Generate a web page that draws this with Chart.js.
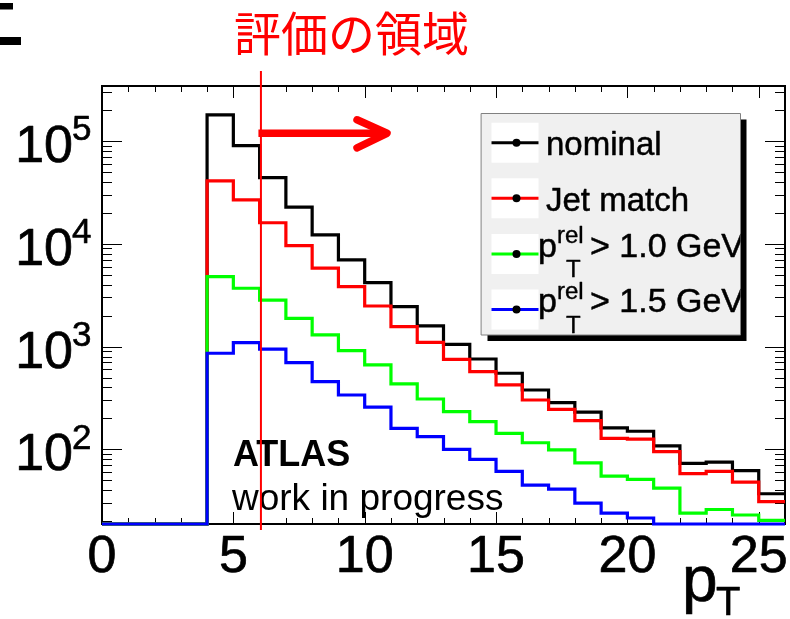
<!DOCTYPE html>
<html>
<head>
<meta charset="utf-8">
<script src="https://cdn.jsdelivr.net/npm/chart.js@4.4.1/dist/chart.umd.min.js"></script>
<style>
  html, body { margin: 0; padding: 0; background: #fff; }
  #wrap { width: 790px; height: 619px; position: relative; }
</style>
</head>
<body>
<div id="wrap"><canvas id="ptChart"></canvas></div>
<script>
// histogram bins: lower edge of each 1 GeV bin
const binLow = [0,1,2,3,4,5,6,7,8,9,10,11,12,13,14,15,16,17,18,19,20,21,22,23,24,25];
const binWidth = 1;

const nominal  = [0,0,0,0,179000,90000,44000,22650,12180,6960,4180,2440,1590,1050,757,550,378,285,230,162,150,108,73,75,62,37];
const jetMatch = [0,0,0,0,40800,26700,16000,9580,5780,3830,2480,1560,1100,752,570,423,302,245,190,128,126,95,58,61,48,31];
const prel10   = [0,0,0,0,4790,3690,2830,1880,1300,912,662,433,309,233,186,143,116,99,74,55,51,42,24,26,23,20.4];
const prel15   = [0,0,0,0,861,1090,942,697,456,338,257,160,133,100,80,61,45,41,30,24,21.5,0,0,0,0,0];

const xTickLabels = [0,5,10,15,20,25];
const yDecades = [2,3,4,5];
const yMin = 18.8;
const yMax = 342000;
const cutPt = 6.05;       // start of the evaluated region
const arrowEnd = 10.85;
const arrowY = 118600;

const FONT = '"Liberation Sans", Arial, Helvetica, sans-serif';

function histPoints(vals) {
  const pts = vals.map((v, i) => ({ x: binLow[i], y: v > 0 ? v : yMin }));
  pts.push({ x: binLow[binLow.length - 1] + binWidth, y: pts[pts.length - 1].y });
  return pts;
}

// text a bit heavier, like the ROOT helvetica output
function heavyText(ctx, txt, x, y, w) {
  ctx.lineWidth = w;
  ctx.strokeStyle = ctx.fillStyle;
  ctx.lineJoin = 'round';
  ctx.strokeText(txt, x, y);
  ctx.fillText(txt, x, y);
}

// ROOT-like frame, ticks, labels, legend and annotations
const rootStyle = {
  id: 'rootStyle',
  beforeDatasetsDraw(chart) {
    const { ctx, chartArea: a } = chart;
    const xs = chart.scales.x, ys = chart.scales.y;
    ctx.save();
    ctx.strokeStyle = '#000';
    ctx.lineWidth = 2;
    ctx.strokeRect(a.left, a.top, a.right - a.left, a.bottom - a.top);

    ctx.lineWidth = 1;
    for (let v = 1; v < 26; v++) {
      const px = Math.round(xs.getPixelForValue(v)) + 0.5;
      const len = v % 5 === 0 ? 12 : 6;
      ctx.beginPath();
      ctx.moveTo(px, a.bottom); ctx.lineTo(px, a.bottom - len);
      ctx.moveTo(px, a.top); ctx.lineTo(px, a.top + len);
      ctx.stroke();
    }
    for (let d = 1; d <= 5; d++) {
      for (let m = 1; m <= 9; m++) {
        const v = m * Math.pow(10, d);
        if (v <= yMin || v >= yMax) continue;
        const py = Math.round(ys.getPixelForValue(v)) + 0.5;
        const len = m === 1 ? 20 : 10;
        ctx.beginPath();
        ctx.moveTo(a.left, py); ctx.lineTo(a.left + len, py);
        ctx.moveTo(a.right, py); ctx.lineTo(a.right - len, py);
        ctx.stroke();
      }
    }
    ctx.restore();
  },
  afterDraw(chart) {
    const { ctx, chartArea: a } = chart;
    const xs = chart.scales.x, ys = chart.scales.y;
    ctx.save();

    // tick labels
    ctx.fillStyle = '#000';
    ctx.font = '52px ' + FONT;
    ctx.textAlign = 'center';
    ctx.textBaseline = 'alphabetic';
    xTickLabels.forEach(v => heavyText(ctx, String(v), xs.getPixelForValue(v), 572, 0.7));
    yDecades.forEach(d => {
      const py = ys.getPixelForValue(Math.pow(10, d));
      ctx.font = '52px ' + FONT;
      ctx.textAlign = 'right';
      heavyText(ctx, '10', 73, py + 21, 0.7);
      ctx.font = '35px ' + FONT;
      ctx.textAlign = 'left';
      heavyText(ctx, String(d), 72, py - 0.5, 0.6);
    });

    // axis title p_T
    ctx.textAlign = 'left';
    ctx.font = '64px ' + FONT;
    heavyText(ctx, 'p', 682, 601, 0.7);
    ctx.font = '40px ' + FONT;
    heavyText(ctx, 'T', 716, 615, 0.6);

    // ATLAS label
    ctx.font = 'bold 36px ' + FONT;
    ctx.fillText('ATLAS', 233, 466);
    ctx.font = '37px ' + FONT;
    ctx.fillText('work in progress', 232, 510);

    // evaluated region: line + arrow + title
    const cx = xs.getPixelForValue(cutPt);
    ctx.strokeStyle = '#ff0000';
    ctx.lineWidth = 2;
    ctx.beginPath();
    ctx.moveTo(cx, 71); ctx.lineTo(cx, 530);
    ctx.stroke();

    const ay = ys.getPixelForValue(arrowY);
    const tipX = xs.getPixelForValue(arrowEnd);
    ctx.lineWidth = 7.5;
    ctx.lineCap = 'butt';
    ctx.beginPath();
    ctx.moveTo(cx - 2.5, ay); ctx.lineTo(tipX - 4, ay);
    ctx.stroke();
    ctx.lineCap = 'round';
    ctx.lineJoin = 'round';
    ctx.beginPath();
    ctx.moveTo(tipX - 30, ay - 13.5); ctx.lineTo(tipX, ay); ctx.lineTo(tipX - 30, ay + 14.5);
    ctx.stroke();

    ctx.fillStyle = '#ff0000';
    ctx.font = '47px "Noto Sans CJK JP", sans-serif';
    ctx.textAlign = 'center';
    ctx.textBaseline = 'middle';
    ctx.fillText('評価の領域', 351.5, 33);

    // cropped glyph from the slide, top-left
    ctx.fillStyle = '#000';
    ctx.fillRect(0, 3, 13, 6.5);
    ctx.fillRect(0, 37, 21, 8);

    // legend
    const L = { x: 481.5, y: 113.5, w: 259, h: 221.5 };
    ctx.fillStyle = '#000';
    ctx.fillRect(L.x + 6, L.y + 6, L.w, L.h);
    ctx.fillStyle = '#f0f0f0';
    ctx.fillRect(L.x, L.y, L.w, L.h);
    ctx.strokeStyle = '#808080';
    ctx.lineWidth = 1;
    ctx.strokeRect(L.x, L.y, L.w, L.h);

    const rowY = [142.7, 198.3, 254, 309.5];
    ctx.beginPath();
    ctx.rect(L.x, L.y, L.w, L.h);
    ctx.clip();
    chart.data.datasets.forEach((ds, i) => {
      const y = rowY[i];
      ctx.fillStyle = '#fff';
      ctx.fillRect(491.5, y - 20, 47, 40);
      ctx.strokeStyle = ds.borderColor;
      ctx.lineWidth = 3;
      ctx.lineCap = 'butt';
      ctx.beginPath();
      ctx.moveTo(491.5, y); ctx.lineTo(538.5, y);
      ctx.stroke();
      ctx.fillStyle = '#000';
      ctx.beginPath();
      ctx.arc(516.5, y, 4, 0, Math.PI * 2);
      ctx.fill();

      ctx.textAlign = 'left';
      ctx.textBaseline = 'alphabetic';
      if (ds.legendSub) {
        ctx.font = '34px ' + FONT;
        heavyText(ctx, 'p', 538, y + 2.5, 0.5);
        ctx.font = '24px ' + FONT;
        heavyText(ctx, 'rel', 557, y - 11, 0.4);
        heavyText(ctx, 'T', 566, y + 23, 0.4);
        ctx.font = '34px ' + FONT;
        heavyText(ctx, '> ' + ds.legendSub, 590, y + 2.5, 0.5);
      } else {
        ctx.font = '33px ' + FONT;
        heavyText(ctx, ds.label, 546, y + 12.5, 0.5);
      }
    });
    ctx.restore();
  }
};

new Chart(document.getElementById('ptChart'), {
  type: 'line',
  data: {
    datasets: [
      { label: 'nominal', data: histPoints(nominal), borderColor: '#000000', order: 3 },
      { label: 'Jet match', data: histPoints(jetMatch), borderColor: '#ff0000', order: 2 },
      { label: 'p_T^rel > 1.0 GeV', legendSub: '1.0 GeV', data: histPoints(prel10), borderColor: '#00ff00', order: 1 },
      { label: 'p_T^rel > 1.5 GeV', legendSub: '1.5 GeV', data: histPoints(prel15), borderColor: '#0000ff', order: 0 }
    ]
  },
  options: {
    responsive: true,
    maintainAspectRatio: false,
    animation: false,
    layout: { padding: { left: 102, top: 86, right: 5, bottom: 95 } },
    datasets: { line: { clip: false } },
    elements: {
      line: { borderWidth: 3.2, stepped: true, tension: 0, borderJoinStyle: 'miter', fill: false },
      point: { radius: 0, hoverRadius: 0 }
    },
    plugins: { legend: { display: false }, tooltip: { enabled: false } },
    scales: {
      x: { type: 'linear', min: 0, max: 26, display: false },
      y: { type: 'logarithmic', min: yMin, max: yMax, display: false }
    }
  },
  plugins: [rootStyle]
});
</script>
</body>
</html>
